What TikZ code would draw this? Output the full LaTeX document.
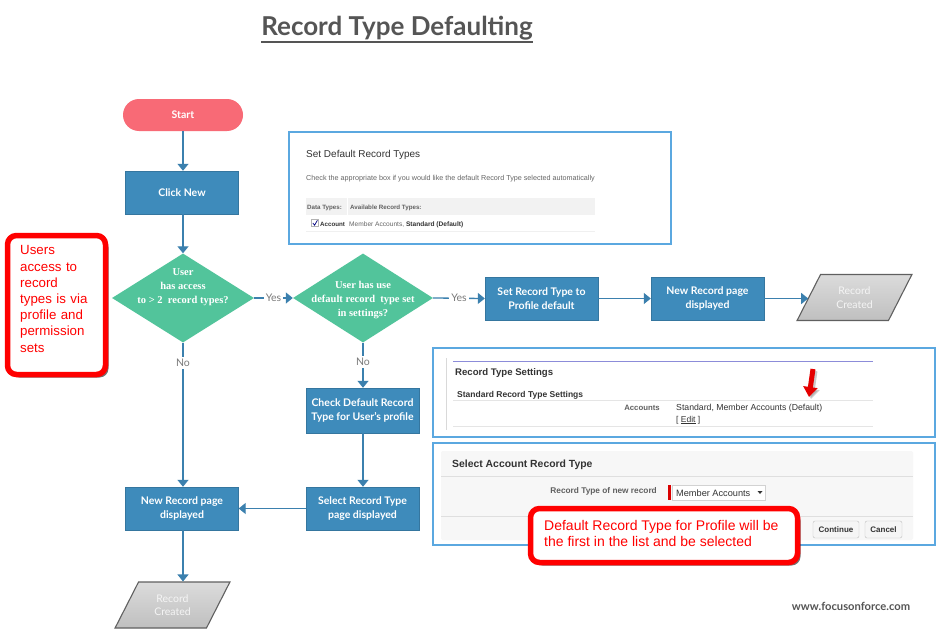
\documentclass[tikz,border=0pt]{standalone}
\usepackage{fontspec}
\setmainfont{Lato}
\newfontfamily\arial{Liberation Sans}
\newfontfamily\tnr{Liberation Serif}
\usetikzlibrary{shapes.geometric,arrows.meta,shadows}
\definecolor{boxblue}{HTML}{3E8BBB}
\definecolor{arrblue}{HTML}{3B80AE}
\definecolor{dgreen}{HTML}{52C49B}
\definecolor{startred}{HTML}{F86A76}
\definecolor{shotblue}{HTML}{5BA8E0}
\definecolor{callred}{HTML}{FF0000}
\definecolor{titlegray}{HTML}{555555}
\definecolor{lblgray}{HTML}{7A7A7A}
\definecolor{txtgray}{HTML}{333333}
\tikzset{
  procbox/.style={rectangle, fill=boxblue, draw=boxblue!85!black, line width=0.4pt,
    minimum width=113pt, minimum height=43pt, text=white, align=center,
    font=\fontsize{10.5}{14}\selectfont\bfseries, inner sep=2pt},
  decbox/.style={diamond, fill=dgreen, inner sep=0pt},
  dectext/.style={text=white, align=center, font=\tnr\fontsize{10.5}{14}\selectfont\bfseries},
  endbox/.style={trapezium, trapezium left angle=62, trapezium right angle=118,
    trapezium stretches=true, minimum width=115pt, minimum height=46pt,
    top color=gray!28, bottom color=gray!50, draw=gray!75!black, line width=1.1pt,
    text=gray!8, align=center, font=\fontsize{10.5}{13.5}\selectfont},
  conn/.style={draw=arrblue, line width=1.3pt, -{Triangle[length=7pt,width=11pt]}},
  yn/.style={fill=white, text=lblgray, font=\fontsize{10.5}{12}\selectfont, inner sep=2pt},
  shotframe/.style={draw=shotblue, line width=1.6pt, fill=white},
  callout/.style={draw=callred, line width=5.5pt, fill=white, rounded corners=9pt,
    drop shadow={shadow xshift=3pt, shadow yshift=-3pt, opacity=0.55, fill=black}},
  calltext/.style={text=callred, align=left, inner sep=0pt},
  st/.style={inner sep=0pt, anchor=base west, text=txtgray},
}
\begin{document}
\begin{tikzpicture}[x=1pt,y=-1pt]
\useasboundingbox (0,0) rectangle (940,634);
\fill[white] (0,0) rectangle (940,634);

% title
\node[text=titlegray, font=\fontsize{26}{30}\selectfont\bfseries, inner sep=0pt] (title) at (397,28) {Record Type Defaulting};
\draw[titlegray, line width=1.5pt] (261,42) -- (533,42);

% screenshot 1
\draw[shotframe] (289,132) rectangle (671,244);
\node[st, font=\arial\fontsize{10}{11}\selectfont] (s1t) at (306,157.5) {Set Default Record Types};
\node[st, font=\arial\fontsize{7.2}{8}\selectfont, text=gray!80!black] (s1d) at (306,180.5) {Check the appropriate box if you would like the default Record Type selected automatically};
\fill[gray!10] (306,198) rectangle (595,215);
\draw[white, line width=1pt] (347,198) -- (347,231);
\draw[gray!12] (306,231) -- (595,231);
\node[st, font=\arial\fontsize{6.2}{7}\selectfont\bfseries, text=gray!75!black] (s1h1) at (307,209) {Data Types:};
\node[st, font=\arial\fontsize{6.2}{7}\selectfont\bfseries, text=gray!75!black] (s1h2) at (350,209) {Available Record Types:};
\draw[gray!60, fill=white] (311.5,219.5) rectangle (318.5,226.5);
\draw[blue!50!black, line width=0.7pt] (312.8,223) -- (314.6,225.2) -- (317.4,220.3);
\node[st, font=\arial\fontsize{6.2}{7}\selectfont\bfseries] (s1a) at (320,226) {Account};
\node[st, font=\arial\fontsize{6.6}{7}\selectfont, text=gray!80!black] (s1b) at (349,226) {Member Accounts, \textcolor{txtgray}{\bfseries Standard (Default)}};

% screenshot 2
\draw[shotframe] (433,348) rectangle (935,437);
\draw[gray!30, line width=0.8pt] (446,358) -- (446,430);
\draw[gray!50!blue!60, line width=1pt] (453,361) -- (873,361);
\node[st, font=\arial\fontsize{9.6}{11}\selectfont\bfseries] (s2t) at (455,375) {Record Type Settings};
\node[st, font=\arial\fontsize{8.5}{10}\selectfont\bfseries] (s2s) at (457,397) {Standard Record Type Settings};
\draw[gray!20] (453,400) -- (873,400);
\node[inner sep=0pt, anchor=base east, font=\arial\fontsize{7.8}{9}\selectfont\bfseries, text=gray!75!black] (s2acc) at (660,410) {Accounts};
\node[st, font=\arial\fontsize{8.7}{10}\selectfont] (s2v) at (676,410) {Standard, Member Accounts (Default)};
\node[st, font=\arial\fontsize{8.5}{10}\selectfont] (s2e) at (676,422) {[ \underline{Edit} ]};
\draw[gray!20] (453,426) -- (873,426);
\draw[black!40, line width=5pt, -{Triangle[length=10pt,width=14pt]}, opacity=0.5] (815,371) -- (811,399);
\draw[red!90!black, line width=5pt, -{Triangle[length=10pt,width=14pt]}] (813,369) -- (809,397);

% screenshot 3
\draw[shotframe] (433,443) rectangle (935,545);
\fill[gray!6, rounded corners=2pt] (441,451) rectangle (913,540);
\node[st, font=\arial\fontsize{10.4}{12}\selectfont\bfseries] (s3t) at (452,467) {Select Account Record Type};
\draw[gray!25] (441,476) -- (913,476);
\node[inner sep=0pt, anchor=base east, font=\arial\fontsize{8.3}{9}\selectfont\bfseries, text=gray!75!black] (s3l) at (657,493) {Record Type of new record};
\fill[red!85!black] (668,484.5) rectangle (670.5,499.5);
\draw[gray!35, fill=white] (672,485) rectangle (765,500);
\node[st, font=\arial\fontsize{9.2}{10}\selectfont] (s3v) at (676,496) {Member Accounts};
\fill[txtgray] (757.5,491) -- (762.5,491) -- (760,494) -- cycle;
\draw[gray!25] (441,516) -- (913,516);
\node[draw=gray!50, fill=gray!8, rounded corners=2pt, minimum width=46pt, minimum height=17pt, inner sep=0pt,
  font=\arial\fontsize{8}{9}\selectfont\bfseries, text=txtgray] (cont) at (836,529.5) {Continue};
\node[draw=gray!50, fill=gray!8, rounded corners=2pt, minimum width=37pt, minimum height=17pt, inner sep=0pt,
  font=\arial\fontsize{8}{9}\selectfont\bfseries, text=txtgray] (canc) at (883.5,529.5) {Cancel};

% callouts
\draw[callout] (7.5,235.5) rectangle (105.5,374.5);
\node[calltext, anchor=north west, text width=85pt, font=\arial\fontsize{13.3}{16.2}\selectfont] (c1) at (20,245.5) {Users\\access to\\record\\types is via\\profile and\\permission\\sets};
\draw[callout] (530.5,508.5) rectangle (797.5,562.5);
\node[calltext, anchor=north west, font=\arial\fontsize{14}{16}\selectfont] (c2) at (544,520) {Default Record Type for Profile will be\\the first in the list and be selected};

% flowchart nodes
\node[fill=startred, rounded corners=16pt, minimum width=120pt, minimum height=32pt, text=white,
  font=\fontsize{10.5}{13}\selectfont\bfseries] (start) at (183,115) {Start};
\node[procbox] (click) at (182,192.5) {Click New};
\node[decbox, minimum width=142pt, minimum height=89pt,
  label={[dectext, yshift=11pt]center:{User\\has access\\to > 2\ \ record types?}}] (d1) at (183,298) {};
\node[decbox, minimum width=140pt, minimum height=89pt,
  label={[dectext, yshift=-2pt]center:{User has use\\default record\ \ type set\\in settings?}}] (d2) at (363,298) {};
\node[procbox] (setrt) at (541.5,298.5) {Set Record Type to\\Profile default};
\node[procbox] (nr1) at (707.5,298.5) {New Record page\\displayed};
\node[endbox] (rc1) at (854.5,297.5) {Record\\Created};
\node[procbox, minimum height=45pt] (chk) at (362.5,410.5) {Check Default Record\\Type for User's profile};
\node[procbox] (sel) at (362.5,508.5) {Select Record Type\\page displayed};
\node[procbox] (nr2) at (182,508.5) {New Record page\\displayed};
\node[endbox] (rc2) at (172.5,605) {Record\\Created};

% footer
\node[text=titlegray, font=\fontsize{11.2}{13}\selectfont\bfseries] (foot) at (851,606) {www.focusonforce.com};

% connectors
\draw[conn] (start.south -| 183,0) -- (click.north -| 183,0);
\draw[conn] (click.south -| 183,0) -- (d1.north);
\draw[conn] (d1.east) -- node[yn] {Yes} (d2.west);
\draw[conn] (d2.east) -- node[yn] {Yes} (setrt.west);
\draw[conn] (setrt.east) -- (nr1.west);
\draw[conn] (nr1.east) -- (nr1.east -| rc1.west);
\draw[conn] (d1.south) -- node[yn, pos=0.14] {No} (d1.south |- nr2.north);
\draw[conn] (d2.south) -- node[yn, pos=0.43] {No} (d2.south |- chk.north);
\draw[conn] (d2.south |- chk.south) -- (d2.south |- sel.north);
\draw[conn] (sel.west) -- (nr2.east);
\draw[conn] (d1.south |- nr2.south) -- (d1.south |- rc2.north);
\end{tikzpicture}
\end{document}
